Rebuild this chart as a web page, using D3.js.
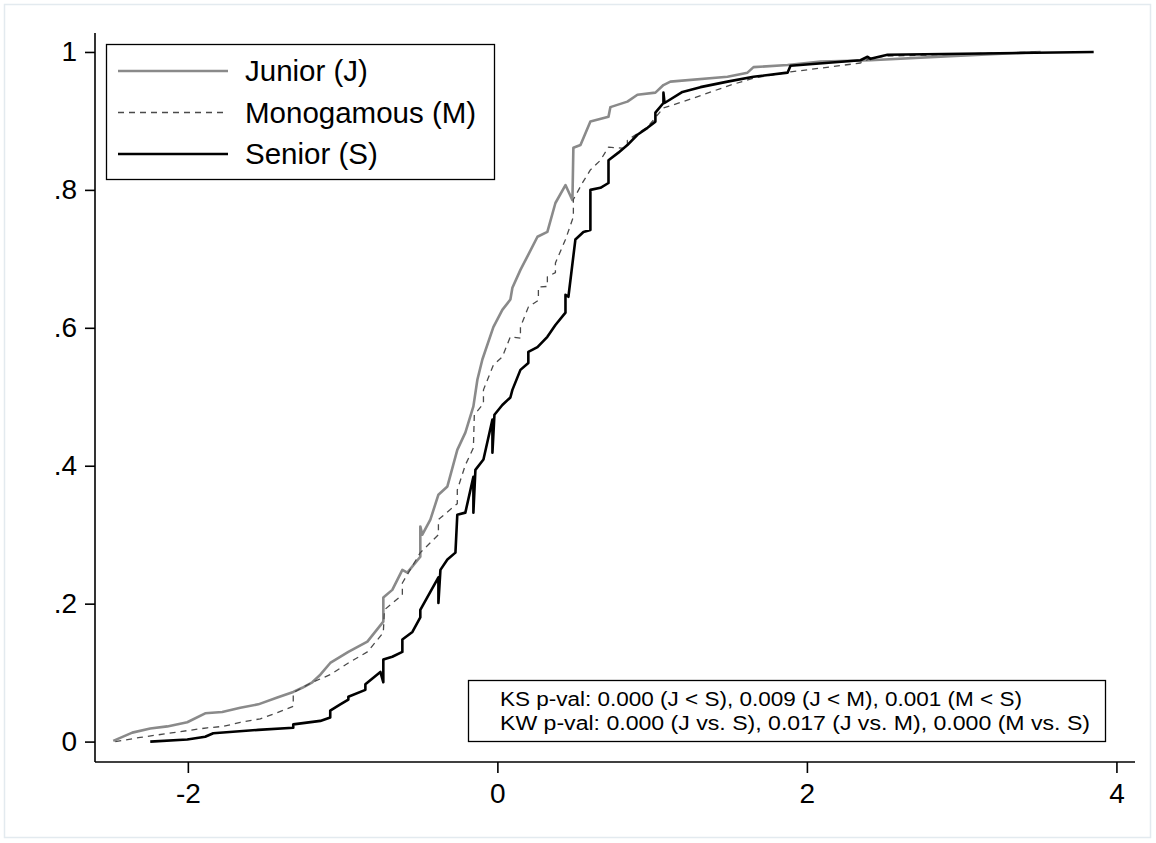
<!DOCTYPE html>
<html>
<script src='https://d3js.org/d3.v7.min.js'></script>
<style>
body {margin: 0; background: white;}
text {font-family: 'Liberation Sans', Arial, sans-serif; fill: black;}
</style>
<body onload='init()'>
<script>
var junior = [[-2.482,0.001],[-2.359,0.013],[-2.243,0.019],[-2.133,0.022],[-2.004,0.028],[-1.888,0.041],
  [-1.778,0.043],[-1.661,0.049],[-1.545,0.054],[-1.422,0.064],[-1.319,0.072],[-1.261,0.078],[-1.196,0.086],
  [-1.144,0.097],[-1.080,0.114],[-0.963,0.130],[-0.840,0.145],[-0.737,0.174],[-0.737,0.209],[-0.679,0.220],
  [-0.614,0.249],[-0.582,0.245],[-0.498,0.268],[-0.498,0.312],[-0.485,0.300],[-0.433,0.322],[-0.381,0.358],
  [-0.323,0.370],[-0.259,0.423],[-0.207,0.448],[-0.155,0.486],[-0.129,0.525],[-0.097,0.554],[-0.026,0.601],
  [0.032,0.626],[0.084,0.641],[0.097,0.658],[0.149,0.684],[0.200,0.706],[0.259,0.732],[0.323,0.739],
  [0.375,0.781],[0.440,0.807],[0.485,0.785],[0.491,0.861],[0.537,0.865],[0.601,0.899],[0.718,0.906],
  [0.730,0.920],[0.840,0.928],[0.905,0.938],[1.021,0.941],[1.073,0.952],[1.118,0.957],[1.487,0.964],
  [1.616,0.970],[1.655,0.978],[1.875,0.981],[2.088,0.986],[2.411,0.988],[2.928,0.994],[3.510,1.000]];

var monogamous = [[-2.469,0.000],[-2.308,0.006],[-2.094,0.013],[-1.875,0.020],[-1.771,0.022],[-1.661,0.028],
  [-1.532,0.033],[-1.422,0.042],[-1.319,0.051],[-1.319,0.071],[-1.196,0.086],[-1.080,0.097],[-0.963,0.114],
  [-0.840,0.130],[-0.737,0.158],[-0.730,0.191],[-0.614,0.213],[-0.614,0.230],[-0.498,0.274],[-0.381,0.300],
  [-0.381,0.322],[-0.259,0.345],[-0.259,0.365],[-0.207,0.401],[-0.155,0.426],[-0.149,0.474],[-0.090,0.490],
  [-0.090,0.510],[-0.026,0.546],[0.032,0.558],[0.084,0.587],[0.149,0.585],[0.149,0.601],[0.200,0.630],
  [0.265,0.640],[0.265,0.659],[0.323,0.660],[0.323,0.674],[0.375,0.680],[0.375,0.694],[0.440,0.728],
  [0.491,0.761],[0.491,0.786],[0.549,0.810],[0.601,0.829],[0.666,0.843],[0.718,0.862],[0.840,0.860],
  [0.840,0.872],[0.970,0.891],[1.073,0.919],[1.202,0.928],[1.506,0.952],[1.655,0.962],[1.894,0.971],
  [2.346,0.984],[2.411,0.991],[2.521,0.994],[2.993,0.997],[3.510,1.000]];

var senior = [[-2.243,0.000],[-2.004,0.003],[-1.888,0.007],[-1.836,0.012],[-1.545,0.017],[-1.319,0.020],
  [-1.319,0.025],[-1.144,0.030],[-1.080,0.035],[-1.080,0.045],[-1.015,0.054],[-0.963,0.061],[-0.963,0.065],
  [-0.853,0.075],[-0.853,0.083],[-0.756,0.101],[-0.737,0.086],[-0.737,0.119],[-0.679,0.123],[-0.614,0.130],
  [-0.614,0.148],[-0.549,0.159],[-0.498,0.180],[-0.498,0.191],[-0.381,0.238],[-0.381,0.201],[-0.368,0.249],
  [-0.323,0.264],[-0.271,0.274],[-0.259,0.329],[-0.207,0.332],[-0.155,0.384],[-0.155,0.332],[-0.142,0.394],
  [-0.090,0.409],[-0.032,0.467],[-0.032,0.419],[-0.019,0.474],[0.032,0.488],[0.084,0.499],[0.097,0.510],
  [0.149,0.539],[0.200,0.549],[0.200,0.565],[0.259,0.572],[0.323,0.587],[0.375,0.604],[0.440,0.622],
  [0.440,0.648],[0.459,0.645],[0.504,0.728],[0.556,0.739],[0.601,0.742],[0.601,0.800],[0.666,0.803],
  [0.718,0.810],[0.718,0.843],[0.782,0.854],[0.840,0.865],[0.905,0.880],[0.970,0.890],[1.021,0.899],
  [1.021,0.912],[1.073,0.926],[1.073,0.941],[1.080,0.926],[1.196,0.942],[1.312,0.949],[1.487,0.957],
  [1.655,0.964],[1.875,0.970],[1.894,0.980],[2.346,0.988],[2.392,0.993],[2.411,0.990],[2.521,0.996],
  [3.853,1.000]];

var seriesNames = ['Junior (J)', 'Monogamous (M)', 'Senior (S)'];
var xTicks = [-2, 0, 2, 4];
var yTicks = [0, 0.2, 0.4, 0.6, 0.8, 1];
var yTickLabels = ['0', '.2', '.4', '.6', '.8', '1'];
var noteLines = ['KS p-val: 0.000 (J < S), 0.009 (J < M), 0.001 (M < S)',
                 'KW p-val: 0.000 (J vs. S), 0.017 (J vs. M), 0.000 (M vs. S)'];

function init() {
var x = d3.scaleLinear().domain([-2.6, 4.12]).range([95, 1135]);
var y = d3.scaleLinear().domain([-0.0296, 1.0275]).range([762, 33]);

var styles = [
  {stroke: '#8a8a8a', width: 2.6, dash: null},
  {stroke: '#4a4a4a', width: 1.3, dash: '6,5'},
  {stroke: '#000000', width: 2.6, dash: null}
];

var svg = d3.select('body')
.append('svg')
.attr('width', 1156)
.attr('height', 843);

// faint outer frame
svg.append('rect')
.attr('x', 4.5).attr('y', 4.5)
.attr('width', 1146).attr('height', 833)
.style('fill', 'white')
.style('stroke', '#e3eaef')
.style('stroke-width', 1.5);

var line = d3.line()
.x(function(d){return x(d[0]);})
.y(function(d){return y(d[1]);});

var curves = [junior, monogamous, senior];
svg.append('g')
.selectAll('path')
.data(curves)
.enter()
.append('path')
.attr('d', line)
.style('fill', 'none')
.style('stroke', function(d, i){return styles[i].stroke;})
.style('stroke-width', function(d, i){return styles[i].width;})
.style('stroke-dasharray', function(d, i){return styles[i].dash;})
.style('stroke-linejoin', 'round');

// axes
var yAxis = svg.append('g')
.attr('transform', 'translate(95,0)')
.call(d3.axisLeft(y).tickValues(yTicks).tickSize(10).tickPadding(8)
  .tickFormat(function(d, i){return yTickLabels[i];}));

var xAxis = svg.append('g')
.attr('transform', 'translate(0,762)')
.call(d3.axisBottom(x).tickValues(xTicks).tickSize(11).tickPadding(10)
  .tickFormat(function(d){return d < 0 ? '-' + Math.abs(d) : d;}));

[yAxis, xAxis].forEach(function(a){
  a.select('.domain').attr('stroke', 'black').attr('stroke-width', 1.6)
   .attr('d', function(){
     return a === yAxis ? 'M0,' + y.range()[1] + 'V' + y.range()[0]
                        : 'M' + x.range()[0] + ',0H' + x.range()[1];
   });
  a.selectAll('.tick line').attr('stroke', 'black').attr('stroke-width', 1.6);
  a.selectAll('.tick text').style('font-size', '28px')
   .style('font-family', "'Liberation Sans', Arial, sans-serif").attr('fill', 'black');
});

// legend
var legend = svg.append('g');
legend.append('rect')
.attr('x', 106.5).attr('y', 44.5)
.attr('width', 388).attr('height', 135)
.style('fill', 'white')
.style('stroke', 'black')
.style('stroke-width', 1.3);

var rows = legend.selectAll('.row')
.data(seriesNames)
.enter().append('g')
.attr('class', 'row')
.attr('transform', function(d, i){return 'translate(0,' + (71 + i * 41.5) + ')';});

rows.append('line')
.attr('x1', 118).attr('x2', 228)
.attr('y1', 0).attr('y2', 0)
.style('stroke', function(d, i){return styles[i].stroke;})
.style('stroke-width', function(d, i){return styles[i].width;})
.style('stroke-dasharray', function(d, i){return styles[i].dash;});

rows.append('text')
.attr('x', 245)
.attr('y', 0)
.attr('dy', '.35em')
.style('font-size', '29.5px')
.text(function(d){return d;});

// test note
var note = svg.append('g');
note.append('rect')
.attr('x', 468.5).attr('y', 680.5)
.attr('width', 637).attr('height', 61)
.style('fill', 'white')
.style('stroke', 'black')
.style('stroke-width', 1.3);

var noteWidths = [522, 590];
note.selectAll('text')
.data(noteLines)
.enter().append('text')
.attr('x', 500)
.attr('y', function(d, i){return 706 + i * 23.5;})
.attr('textLength', function(d, i){return noteWidths[i];})
.attr('lengthAdjust', 'spacingAndGlyphs')
.style('font-size', '20px')
.text(function(d){return d;});
}
</script>
</body>
</html>
